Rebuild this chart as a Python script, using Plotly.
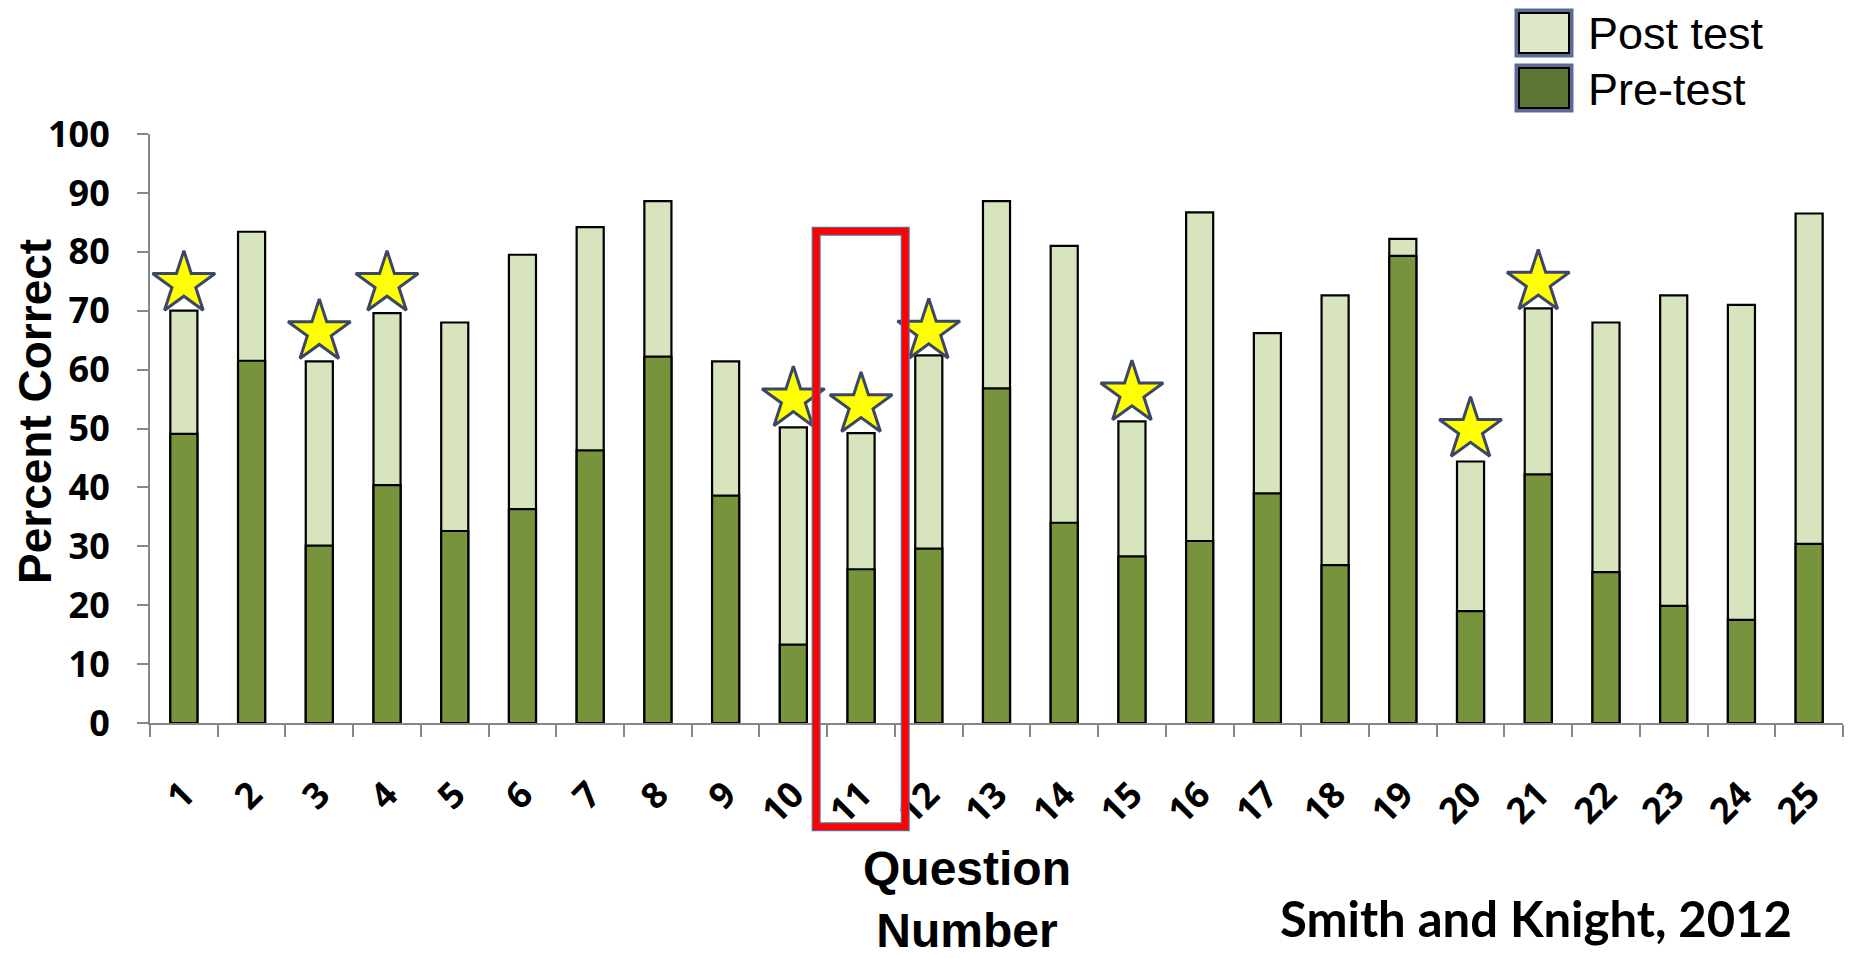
import plotly.graph_objects as go

# ---------------- data ----------------
QUESTIONS = [str(i) for i in range(1, 26)]
PRE_TEST = [49.1, 61.5, 30.1, 40.4, 32.6, 36.3, 46.3, 62.2, 38.6, 13.3,
            26.1, 29.6, 56.8, 34.0, 28.3, 30.9, 39.0, 26.8, 79.3, 19.0,
            42.2, 25.6, 19.9, 17.5, 30.4]
POST_TEST = [70.0, 83.4, 61.4, 69.6, 68.0, 79.5, 84.2, 88.6, 61.4, 50.2,
             49.2, 62.4, 88.6, 81.0, 51.2, 86.7, 66.2, 72.6, 82.2, 44.4,
             70.4, 68.0, 72.6, 71.0, 86.5]
STAR_QUESTIONS = ["1", "3", "4", "10", "11", "12", "15", "20", "21"]
STAR_Y = [74.6, 66.4, 74.6, 55.0, 54.0, 66.5, 56.0, 49.8, 74.8]
HIGHLIGHT_Q = "11"
HIGHLIGHT_TOP = 83.5
HIGHLIGHT_BOTTOM = -17.6
Y_TICKS = [0, 10, 20, 30, 40, 50, 60, 70, 80, 90, 100]

# ---------------- layout geometry ----------------
# the page body has an 8px default margin; the figure is sized to fill the
# remaining window and all page positions are converted to figure positions
PAGE_W, PAGE_H = 1853, 958
OFF = 8
W, H = PAGE_W - OFF, PAGE_H - OFF
ML, MR, MT, MB = 150 - OFF, 10, 134 - OFF, 235
PW = W - ML - MR
PH = H - MT - MB


def px_x(px):
    return (px - OFF - ML) / PW


def px_y(py):
    return (H - MB - (py - OFF)) / PH


PRE_COLOR = "#77933c"
POST_COLOR = "#d7e4bd"
AXIS_GRAY = "#878787"
TICK_FONT = dict(family="Noto Sans, DejaVu Sans, sans-serif", size=36,
                 color="black", weight="bold")

fig = go.Figure()
fig.add_trace(go.Bar(
    x=QUESTIONS, y=POST_TEST, name="Post test", width=0.4,
    marker=dict(color=POST_COLOR, line=dict(color="black", width=2.2)),
))
fig.add_trace(go.Bar(
    x=QUESTIONS, y=PRE_TEST, name="Pre-test", width=0.4,
    marker=dict(color=PRE_COLOR, line=dict(color="black", width=2.2)),
))
fig.add_trace(go.Scatter(
    x=STAR_QUESTIONS, y=STAR_Y, mode="markers", cliponaxis=False,
    marker=dict(symbol="star", size=47, color="#ffff00",
                line=dict(color="#3b4768", width=3)),
    showlegend=False, hoverinfo="skip",
))

shapes = []
# highlight rectangle around question 11
n = len(QUESTIONS)
idx = QUESTIONS.index(HIGHLIGHT_Q)
hx0 = (idx - 0.663 + 0.5) / n
hx1 = (idx + 0.652 + 0.5) / n
for col, lw in (("#5b6c98", 9), ("#ff0000", 6.5)):
    shapes.append(dict(type="rect", xref="x domain", yref="y domain",
                       x0=hx0, x1=hx1, y0=HIGHLIGHT_BOTTOM / 100, y1=HIGHLIGHT_TOP / 100,
                       line=dict(color=col, width=lw), fillcolor="rgba(0,0,0,0)",
                       layer="above"))

# legend boxes (drawn manually, large swatches)
legend_items = [("Post test", "#dde8c8", 11, 55), ("Pre-test", "#5f7533", 66, 110)]
annotations = []
for name, fill, top, bot in legend_items:
    shapes.append(dict(type="rect", xref="paper", yref="paper",
                       x0=px_x(1517), x1=px_x(1571), y0=px_y(bot), y1=px_y(top),
                       line=dict(color="#5b6c98", width=5), fillcolor=fill))
    shapes.append(dict(type="rect", xref="paper", yref="paper",
                       x0=px_x(1519), x1=px_x(1569), y0=px_y(bot - 2), y1=px_y(top + 2),
                       line=dict(color="black", width=2), fillcolor=fill))
    annotations.append(dict(text=name, xref="paper", yref="paper",
                            x=px_x(1586), y=px_y((top + bot) / 2 + 1),
                            xanchor="left", yanchor="middle", showarrow=False,
                            font=dict(family="Liberation Sans, Arial, sans-serif",
                                      size=45, color="black")))

annotations += [
    dict(text="<b>Percent Correct</b>", xref="paper", yref="paper",
         x=px_x(35), y=px_y(412), textangle=-90, showarrow=False,
         xanchor="center", yanchor="middle",
         font=dict(family="Liberation Sans, Arial, sans-serif", size=46, color="black")),
    dict(text="<b>Question</b><br><b>Number</b>", xref="paper", yref="paper",
         x=px_x(967), y=px_y(899), showarrow=False, xanchor="center", yanchor="middle",
         align="center",
         font=dict(family="Liberation Sans Narrow, Arial Narrow, Liberation Sans, sans-serif",
                   size=48, color="black")),
    dict(text="<b>Smith and Knight, 2012</b>", xref="paper", yref="paper",
         x=px_x(1536), y=px_y(918), showarrow=False, xanchor="center", yanchor="middle",
         font=dict(family="Lato, sans-serif", size=49, color="black")),
]

fig.update_layout(
    width=W, height=H,
    margin=dict(l=ML, r=MR, t=MT, b=MB, autoexpand=False),
    paper_bgcolor="white", plot_bgcolor="white",
    barmode="overlay", showlegend=False,
    shapes=shapes, annotations=annotations,
    xaxis=dict(type="category", categoryorder="array", categoryarray=QUESTIONS,
               range=[-0.5, n - 0.5], tickson="boundaries", automargin=False,
               ticks="outside", ticklen=12, tickwidth=2, tickcolor=AXIS_GRAY,
               showline=True, linecolor=AXIS_GRAY, linewidth=2,
               showgrid=False, zeroline=False,
               tickangle=-45, tickfont=TICK_FONT, ticklabelstandoff=34),
    yaxis=dict(range=[0, 100], tickvals=Y_TICKS, ticks="outside", ticklen=11,
               automargin=False,
               tickwidth=2, tickcolor=AXIS_GRAY, showline=True, linecolor=AXIS_GRAY,
               linewidth=2, showgrid=False, zeroline=False,
               tickfont=TICK_FONT, ticklabelstandoff=20),
)

fig.write_html("out.html")
